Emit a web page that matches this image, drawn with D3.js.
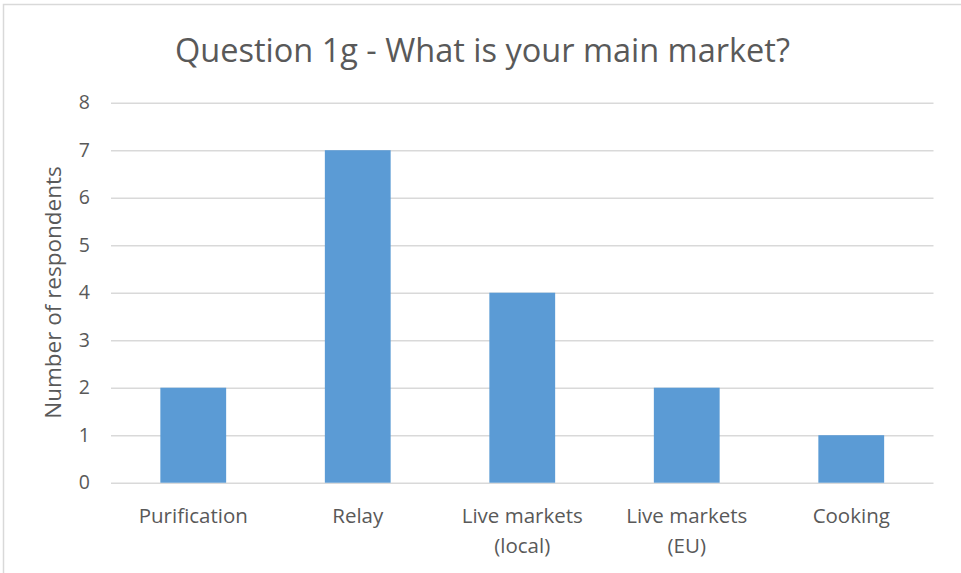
<!DOCTYPE html>
<html>
<head>
<meta charset="utf-8">
<script src="https://cdn.jsdelivr.net/npm/d3@7"></script>
<style>
  html, body { margin: 0; padding: 0; background: #fff; }
  svg { display: block; }
  text { font-family: "Open Sans", "Noto Sans", sans-serif; fill: #595959; }
</style>
</head>
<body>
<svg id="chart" width="961" height="573"></svg>
<script>
// Survey answers: main market of respondents
const categories = [["Purification"], ["Relay"], ["Live markets", "(local)"], ["Live markets", "(EU)"], ["Cooking"]];
const respondents = [2, 7, 4, 2, 1];
const yTicks = [0, 1, 2, 3, 4, 5, 6, 7, 8];
const chartTitle = "Question 1g - What is your main market?";
const yTitle = "Number of respondents";

const svg = d3.select("#chart");
const W = 961, H = 573;
const plot = { left: 111, right: 933.5, top: 102.7, bottom: 482.7 };

// chart area outline
svg.append("rect")
  .attr("x", 3.5).attr("y", 4.5)
  .attr("width", W + 10).attr("height", H + 10)
  .attr("fill", "#fff").attr("stroke", "#d9d9d9").attr("stroke-width", 1.5);

const keys = categories.map(c => c.join(" "));
const x = d3.scaleBand().domain(keys).range([plot.left, plot.right])
  .paddingInner(0.6).paddingOuter(0.3);
const y = d3.scaleLinear().domain([0, 8]).range([plot.bottom, plot.top]);

// horizontal gridlines with value labels
const yAxis = d3.axisLeft(y).tickValues(yTicks).tickSize(-(plot.right - plot.left)).tickPadding(21);
const gy = svg.append("g").attr("transform", `translate(${plot.left},0)`).call(yAxis);
gy.select(".domain").remove();
gy.selectAll(".tick line").attr("stroke", "#d9d9d9").attr("stroke-width", 1.6);
gy.selectAll(".tick text").attr("font-size", 19.5).attr("fill", "#595959")
  .style("font-family", '"Open Sans", "Noto Sans", sans-serif');

// bars
svg.append("g").selectAll("rect").data(respondents).join("rect")
  .attr("x", (d, i) => x(keys[i]))
  .attr("y", d => y(d))
  .attr("width", x.bandwidth())
  .attr("height", d => y(0) - y(d))
  .attr("fill", "#5b9bd5");

// category labels (may wrap onto two lines)
const gx = svg.append("g");
categories.forEach((lines, i) => {
  const cx = x(keys[i]) + x.bandwidth() / 2;
  const t = gx.append("text")
    .attr("x", cx)
    .attr("y", 522.5)
    .attr("text-anchor", "middle")
    .attr("font-size", 20.5);
  lines.forEach((ln, j) => {
    t.append("tspan").attr("x", cx)
      .attr("dy", j === 0 ? 0 : 30).text(ln);
  });
});

// axis title
svg.append("text")
  .attr("transform", `translate(61,292.5) rotate(-90)`)
  .attr("text-anchor", "middle")
  .attr("font-size", 22.5)
  .text(yTitle);

// chart title
svg.append("text")
  .attr("x", 482.5).attr("y", 61.5)
  .attr("text-anchor", "middle")
  .attr("font-size", 32.5)
  .text(chartTitle);
</script>
</body>
</html>
